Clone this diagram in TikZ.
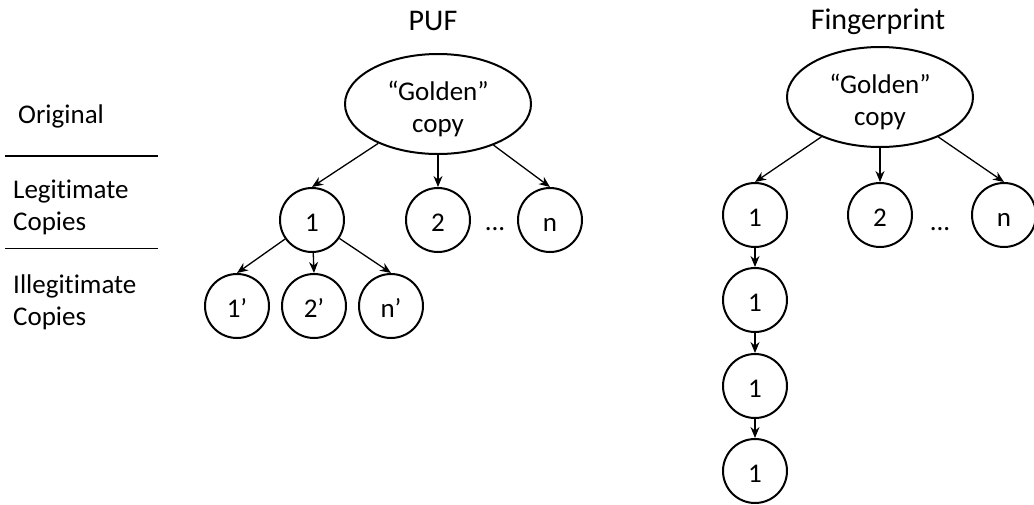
\documentclass[tikz,border=0pt]{standalone}
\usepackage{fontspec}
\setmainfont{Carlito}[Ligatures=NoCommon]
\usetikzlibrary{arrows.meta,shapes.geometric}
\begin{document}
\begin{tikzpicture}[x=1pt,y=-1pt,
  copynode/.style={circle,draw,line width=2pt,minimum size=64pt,inner sep=0pt,text height=22pt,text depth=0pt,font=\fontsize{27}{30}\selectfont},
  golden/.style={ellipse,draw,line width=2pt,minimum width=186pt,minimum height=100pt,inner sep=0pt,align=center,font=\fontsize{27}{32}\selectfont},
  arr/.style={-{Stealth[length=11pt,width=9pt]},line width=1.3pt},
  title/.style={font=\fontsize{30}{34}\selectfont},
  rowlabel/.style={anchor=west,align=left,inner sep=0pt,font=\fontsize{27}{32}\selectfont},
  dotsnode/.style={inner sep=0pt,font=\fontsize{27}{30}\selectfont},
]
\useasboundingbox (0,0) rectangle (1034,504);

% row labels and separators
\node[rowlabel] (lorig) at (18,116) {Original};
\node[rowlabel] (llegit) at (13,207) {Legitimate\\Copies};
\node[rowlabel] (lillegit) at (13,302) {Illegitimate\\Copies};
\coordinate (s1a) at (5,156);
\coordinate (s1b) at (158,156);
\coordinate (s2a) at (5,248);
\coordinate (s2b) at (158,248);
\draw[line width=2pt] (s1a) -- (s1b);
\draw[line width=1pt] (s2a) -- (s2b);

% PUF
\node[title] (tpuf) at (433,21) {PUF};
\node[golden] (g1) at (438,104) {\rule{0pt}{29pt}“Golden”\\copy};
\node[copynode] (c1) at (312,220) {1};
\node[copynode] (c2) at (438,220) {2};
\node[copynode] (cn) at (550,220) {n};
\node[dotsnode] (d1) at (495,229) {...};
\node[copynode] (p1) at (237,306) {1’};
\node[copynode] (p2) at (314,306) {2’};
\node[copynode] (pn) at (391,306) {n’};
\draw[arr] (g1) -- (c1.north);
\draw[arr] (g1) -- (c2.north);
\draw[arr] (g1) -- (cn.north);
\draw[arr] (c1) -- (p1.north);
\draw[arr] (c1) -- (p2.north);
\draw[arr] (c1) -- (pn.north);

% Fingerprint
\node[title] (tfp) at (878,22) {Fingerprint};
\node[golden] (g2) at (880,97) {\rule{0pt}{29pt}“Golden”\\copy};
\node[copynode] (f1) at (755,215) {1};
\node[copynode] (f2) at (880,215) {2};
\node[copynode] (fn) at (1004,215) {n};
\node[dotsnode] (d2) at (940,229) {...};
\node[copynode] (f1a) at (755,300) {1};
\node[copynode] (f1b) at (755,386) {1};
\node[copynode] (f1c) at (755,471) {1};
\draw[arr] (g2) -- (f1.north);
\draw[arr] (g2) -- (f2.north);
\draw[arr] (g2) -- (fn.north);
\draw[arr] (f1) -- (f1a);
\draw[arr] (f1a) -- (f1b);
\draw[arr] (f1b) -- (f1c);
\end{tikzpicture}
\end{document}
